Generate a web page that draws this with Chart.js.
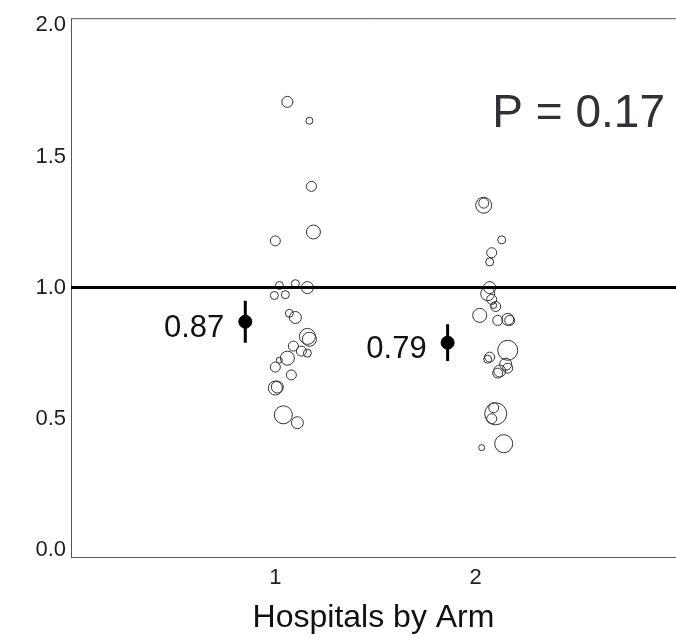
<!DOCTYPE html>
<html>
<head>
<meta charset="utf-8">
<script src="https://cdn.jsdelivr.net/npm/chart.js@4.4.0/dist/chart.umd.min.js"></script>
<style>
  html, body { margin: 0; padding: 0; background: #fff; overflow: hidden; }
  #wrap { width: 676px; height: 638px; position: relative; }
  canvas { display: block; }
</style>
</head>
<body>
<div id="wrap"><canvas id="myChart"></canvas></div>
<script>
// hospitals, arm 1: x jitter, ratio, bubble size
var arm1X = [1.06, 1.17, 1.18, 1.19, 1.00, 1.02, 1.10, 1.16, 0.995, 1.05, 1.07, 1.10, 1.16, 1.17, 1.09, 1.13, 1.16, 1.06, 1.02, 1.00, 1.08, 1.00, 1.01, 1.04, 1.11];
var arm1Y = [1.708, 1.636, 1.386, 1.212, 1.178, 1.008, 1.015, 1.0, 0.97, 0.973, 0.902, 0.886, 0.814, 0.803, 0.777, 0.758, 0.75, 0.731, 0.723, 0.697, 0.667, 0.617, 0.621, 0.515, 0.485];
var arm1R = [5.5, 3.5, 5, 7, 5, 4, 4, 6, 4, 4, 4, 6, 8, 7, 5, 5, 4, 7, 3, 5, 5, 7, 6, 9, 6];

// hospitals, arm 2
var arm2X = [2.04, 2.04, 2.13, 2.08, 2.07, 2.07, 2.06, 2.08, 2.10, 2.09, 2.02, 2.11, 2.16, 2.17, 2.16, 2.07, 2.06, 2.15, 2.12, 2.11, 2.16, 2.10, 2.09, 2.08, 2.03, 2.14];
var arm2Y = [1.314, 1.322, 1.182, 1.133, 1.098, 1.0, 0.977, 0.955, 0.928, 0.932, 0.894, 0.875, 0.879, 0.875, 0.761, 0.735, 0.727, 0.708, 0.682, 0.674, 0.693, 0.519, 0.542, 0.5, 0.39, 0.405];
var arm2R = [8, 5, 4, 5, 4, 6, 7, 5, 5, 3, 7, 5, 6, 5, 10, 5, 4, 6, 6, 5, 5, 11, 5, 5, 3, 9];

// point estimates with intervals
var estX = [0.85, 1.86];
var estMean = [0.87, 0.79];
var estLow = [0.79, 0.72];
var estHigh = [0.95, 0.86];
var estLabels = ["0.87", "0.79"];

var refValue = 1.0;
var pText = "P = 0.17";

var xMin = -0.02, xMax = 3;
var yMin = -0.027, yMax = 2.027;
var xTickValues = [1, 2];
var xTickLabels = ["1", "2"];
var yTickValues = [0, 0.5, 1, 1.5, 2];
var xTitle = "Hospitals by Arm";

var FONT = "'Liberation Sans', Arial, Helvetica, sans-serif";

function bubbles(xs, ys, rs) {
  var out = [];
  for (var i = 0; i < xs.length; i++) out.push({x: xs[i], y: ys[i], r: rs[i]});
  return out;
}

var datasets = [];
for (var i = 0; i < estX.length; i++) {
  datasets.push({
    type: "scatter",
    data: [{x: estX[i], y: estMean[i]}],
    backgroundColor: "#000",
    borderColor: "#000",
    pointRadius: 6.5,
    order: 0
  });
  datasets.push({
    type: "line",
    data: [{x: estX[i], y: estLow[i]}, {x: estX[i], y: estHigh[i]}],
    borderColor: "#000",
    borderWidth: 3,
    pointRadius: 0,
    order: 1
  });
}
datasets.push({
  type: "line",
  data: [{x: xMin, y: refValue}, {x: xMax, y: refValue}],
  borderColor: "#000",
  borderWidth: 3,
  pointRadius: 0,
  order: 2
});
datasets.push({
  type: "bubble",
  data: bubbles(arm1X, arm1Y, arm1R),
  backgroundColor: "rgba(0,0,0,0)",
  borderColor: "#333",
  borderWidth: 1,
  order: 3
});
datasets.push({
  type: "bubble",
  data: bubbles(arm2X, arm2Y, arm2R),
  backgroundColor: "rgba(0,0,0,0)",
  borderColor: "#333",
  borderWidth: 1,
  order: 3
});

var extras = {
  id: "extras",
  afterDraw: function(chart) {
    var ctx = chart.ctx, a = chart.chartArea;
    var xs = chart.scales.x, ys = chart.scales.y;
    ctx.save();
    // top frame line
    ctx.strokeStyle = "#555";
    ctx.lineWidth = 1;
    ctx.beginPath();
    ctx.moveTo(a.left, a.top + 0.5);
    ctx.lineTo(a.right, a.top + 0.5);
    ctx.stroke();
    // estimate labels
    ctx.fillStyle = "#111";
    ctx.font = "31px " + FONT;
    ctx.textAlign = "right";
    ctx.textBaseline = "middle";
    for (var i = 0; i < estX.length; i++) {
      ctx.fillText(estLabels[i], xs.getPixelForValue(estX[i]) - 21, ys.getPixelForValue(estMean[i]) + 7);
    }
    // p value
    ctx.fillStyle = "#2e3136";
    ctx.font = "46px " + FONT;
    ctx.fillText(pText, a.right - 11, a.top + 96);
    ctx.restore();
  }
};

new Chart("myChart", {
  data: {datasets: datasets},
  options: {
    responsive: true,
    maintainAspectRatio: false,
    animation: false,
    layout: {autoPadding: false, padding: {top: 15, right: 0, bottom: 0, left: 0}},
    plugins: {legend: {display: false}, tooltip: {enabled: false}},
    scales: {
      x: {
        type: "linear",
        min: xMin,
        max: xMax,
        afterFit: function(s) { s.height = 81; },
        afterBuildTicks: function(s) {
          s.ticks = xTickValues.map(function(v) { return {value: v}; });
        },
        ticks: {
          padding: 8,
          color: "#1e1e1e",
          font: {family: FONT, size: 22},
          callback: function(v) { return xTickLabels[xTickValues.indexOf(v)]; }
        },
        grid: {display: false, drawTicks: false},
        border: {display: true, color: "#555", width: 1},
        title: {
          display: true,
          text: xTitle,
          color: "#111",
          font: {family: FONT, size: 32},
          padding: {top: 0, bottom: 1}
        }
      },
      y: {
        type: "linear",
        min: yMin,
        max: yMax,
        afterFit: function(s) { s.width = 71; },
        afterBuildTicks: function(s) {
          s.ticks = yTickValues.map(function(v) { return {value: v}; });
        },
        ticks: {
          padding: 5,
          color: "#1e1e1e",
          font: {family: FONT, size: 22},
          callback: function(v) { return v.toFixed(1); }
        },
        grid: {display: false, drawTicks: false},
        border: {display: true, color: "#555", width: 1}
      }
    }
  },
  plugins: [extras]
});
</script>
</body>
</html>
